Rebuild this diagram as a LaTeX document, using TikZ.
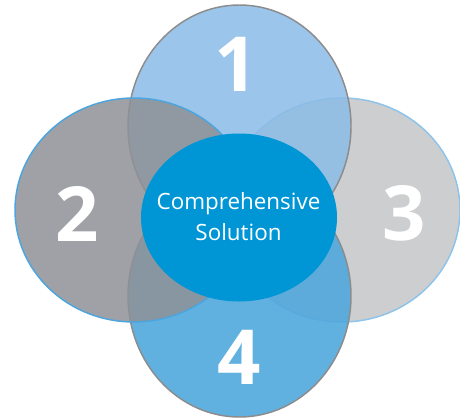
\documentclass[tikz,border=0pt]{standalone}
\usepackage{fontspec}
\setmainfont{Open Sans}
\usetikzlibrary{shapes.geometric}
\definecolor{topblue}{RGB}{139,188,230}
\definecolor{lowblue}{RGB}{80,168,221}
\definecolor{darkgrey}{RGB}{143,145,150}
\definecolor{lightgrey}{RGB}{205,206,208}
\definecolor{coreblue}{RGB}{0,150,214}
\definecolor{rimgrey}{RGB}{140,140,142}
\definecolor{rimblue}{RGB}{75,165,222}
\definecolor{rimpale}{RGB}{142,195,234}
\tikzset{
  petal/.style={shape=ellipse, inner sep=0pt, line width=1.1pt},
  digit/.style={text=white, font=\fontsize{57}{57}\selectfont\bfseries}
}

\begin{document}
\begin{tikzpicture}[x=0.75pt, y=-0.75pt]
    \useasboundingbox (0,0) rectangle (460,418);
    \node(three)[petal, draw=rimpale, fill=lightgrey, minimum width=177pt, minimum height=168pt] at (342,210) {};
    \node(one)[petal, draw=rimgrey, fill=topblue, fill opacity=0.86, minimum width=167.25pt, minimum height=181.5pt] at (239.5,126) {};
    \node(four)[petal, draw=rimgrey, fill=lowblue, fill opacity=0.9, minimum width=167.25pt, minimum height=181.5pt] at (239.5,296) {};
    \node(two)[petal, draw=rimblue, fill=darkgrey, fill opacity=0.85, minimum width=178.5pt, minimum height=168pt] at (134,210) {};
    \node(core)[petal, draw=none, fill=coreblue, minimum width=147pt, minimum height=126pt] at (239,217.5) {};

    \node(n1)[digit] at (236.5,64.5) {1};
    \node(n2)[digit] at (77.5,213.5) {2};
    \node(n3)[digit] at (404,213.5) {3};
    \node(n4)[digit] at (239,357.5) {4};
    \node(label)[text=white, align=center, font=\fontsize{16.8}{23.25}\selectfont] at (238.5,217) {Comprehensive\\Solution};

\end{tikzpicture}
\end{document}
